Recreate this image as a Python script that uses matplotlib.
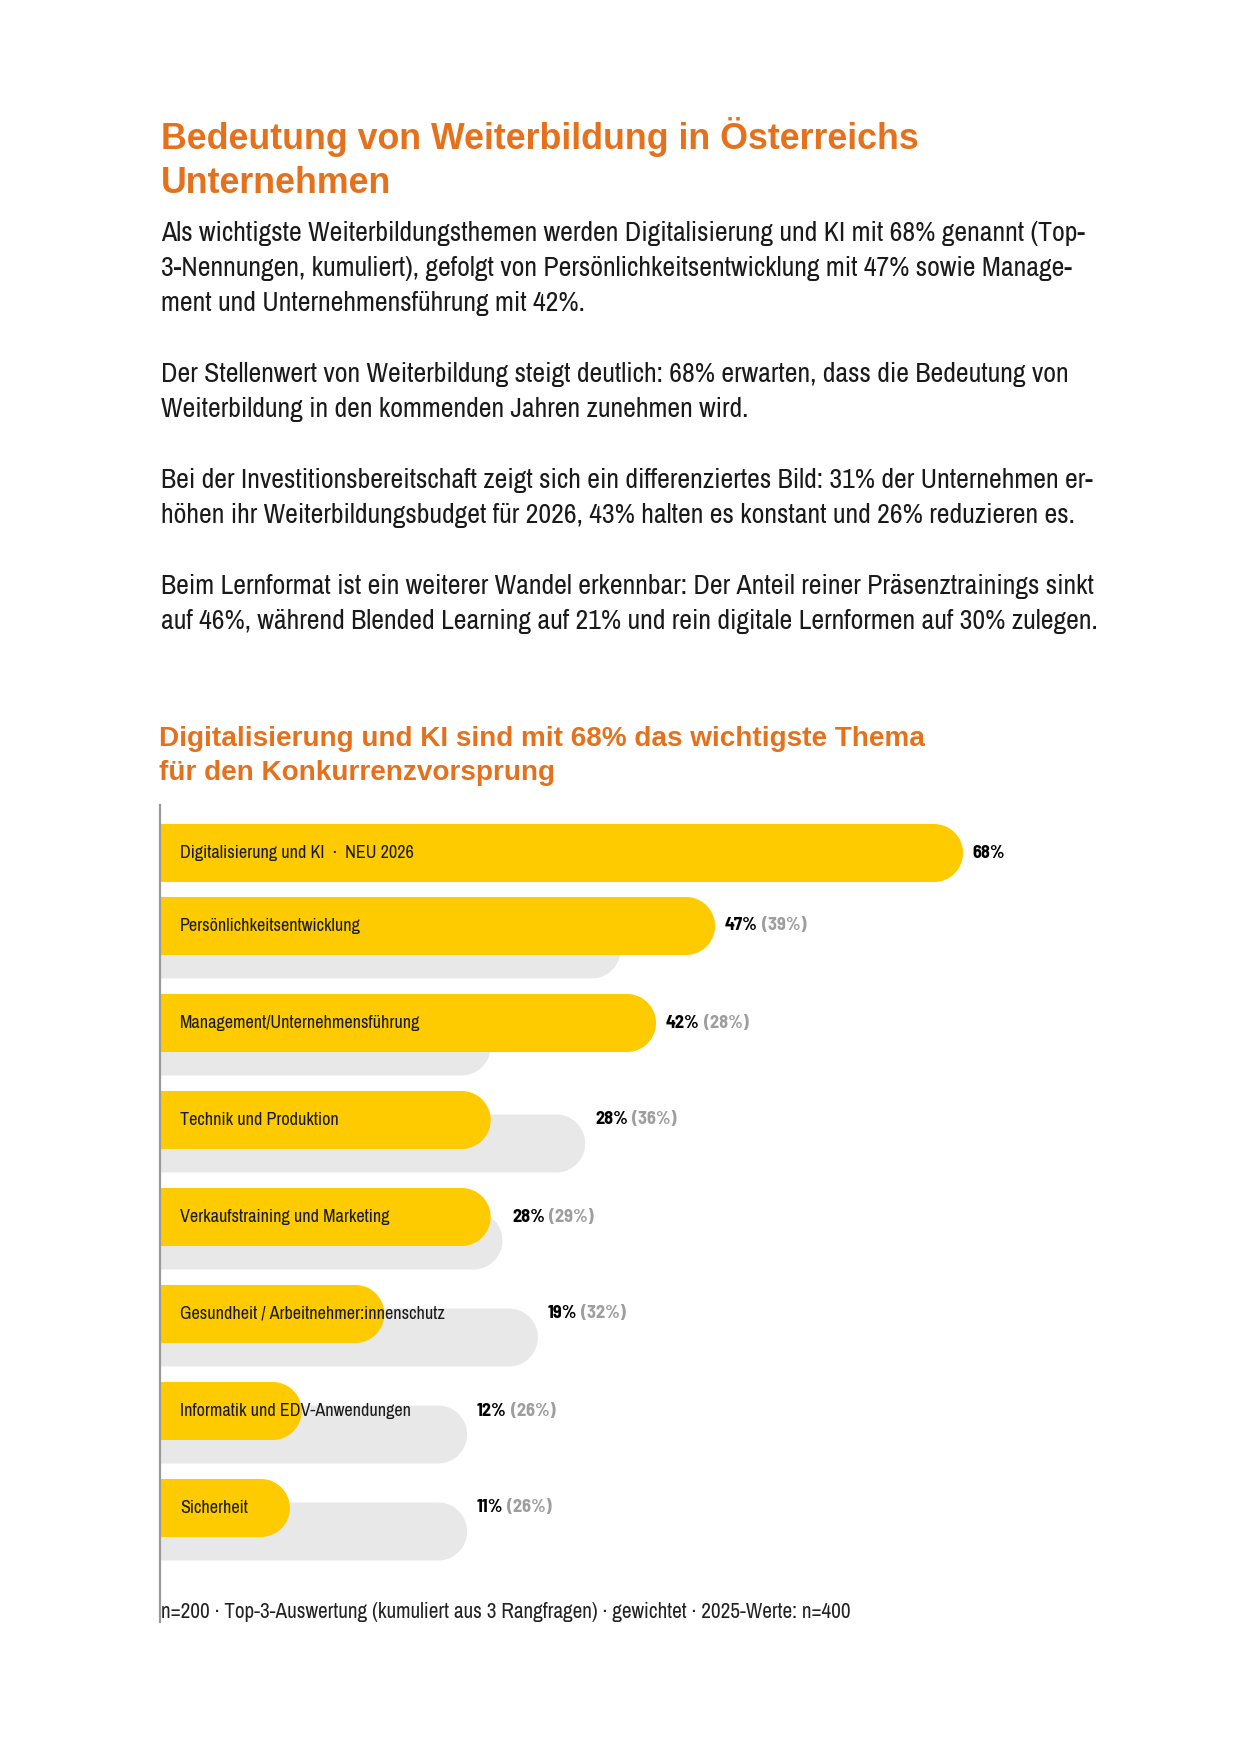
import matplotlib
matplotlib.use("Agg")
import matplotlib.pyplot as plt
import numpy as np
from matplotlib.patches import Polygon

W, H = 1241, 1754

title_lines = ["Bedeutung von Weiterbildung in Österreichs", "Unternehmen"]
body_paragraphs = [
    ["Als wichtigste Weiterbildungsthemen werden Digitalisierung und KI mit 68% genannt (Top-",
     "3-Nennungen, kumuliert), gefolgt von Persönlichkeitsentwicklung mit 47% sowie Manage-",
     "ment und Unternehmensführung mit 42%."],
    ["Der Stellenwert von Weiterbildung steigt deutlich: 68% erwarten, dass die Bedeutung von",
     "Weiterbildung in den kommenden Jahren zunehmen wird."],
    ["Bei der Investitionsbereitschaft zeigt sich ein differenziertes Bild: 31% der Unternehmen er-",
     "höhen ihr Weiterbildungsbudget für 2026, 43% halten es konstant und 26% reduzieren es."],
    ["Beim Lernformat ist ein weiterer Wandel erkennbar: Der Anteil reiner Präsenztrainings sinkt",
     "auf 46%, während Blended Learning auf 21% und rein digitale Lernformen auf 30% zulegen."],
]
chart_title = ["Digitalisierung und KI sind mit 68% das wichtigste Thema",
               "für den Konkurrenzvorsprung"]
footer = "n=200 · Top-3-Auswertung (kumuliert aus 3 Rangfragen) · gewichtet · 2025-Werte: n=400"

categories = ["Digitalisierung und KI  ·  NEU 2026", "Persönlichkeitsentwicklung",
              "Management/Unternehmensführung", "Technik und Produktion",
              "Verkaufstraining und Marketing", "Gesundheit / Arbeitnehmer:innenschutz",
              "Informatik und EDV-Anwendungen", "Sicherheit"]
values_2026 = [68, 47, 42, 28, 28, 19, 12, 11]
values_2025 = [None, 39, 28, 36, 29, 32, 26, 26]

ORANGE = "#E5711C"
YELLOW = "#FDCB00"
LIGHT = "#E8E8E8"
GREY_TXT = "#9E9E9E"
INK = "#1A1A1A"
NARROW = ["Archivo Narrow", "DejaVu Sans"]
NARROW_BOLD = ["Barlow Semi Condensed", "Archivo Narrow", "DejaVu Sans"]
SANS = ["Liberation Sans", "DejaVu Sans"]

fig = plt.figure(figsize=(W / 100, H / 100), dpi=100)
renderer = fig.canvas.get_renderer()


def ptext(x, y, s, **kw):
    # text at page pixel coords, y measured from the top
    return fig.text(x / W, 1 - y / H, s, va="baseline", ha="left", **kw)


def fit(t, target):
    w = t.get_window_extent(renderer).width
    t.set_fontsize(t.get_fontsize() * target / w)
    return t.get_fontsize()


# page title
t = ptext(161, 149, title_lines[0], family=SANS, weight="bold", color=ORANGE, fontsize=26)
tsize = fit(t, 759)
ptext(161, 193, title_lines[1], family=SANS, weight="bold", color=ORANGE, fontsize=tsize)

# body text
probe = ptext(0, -100, body_paragraphs[3][1], family=NARROW, fontsize=18)
bsize = fit(probe, 938)
probe.remove()
y = 241
for para in body_paragraphs:
    for line in para:
        ptext(161, y, line, family=NARROW, fontsize=bsize, color=INK)
        y += 35
    y += 36

# chart title
t = ptext(159, 746, chart_title[0], family=SANS, weight="bold", color=ORANGE, fontsize=19)
csize = fit(t, 764)
ptext(159, 780, chart_title[1], family=SANS, weight="bold", color=ORANGE, fontsize=csize)

# chart axes placed in page pixels
PX_PER_PCT = 11.81
top, bottom, left = 805, 1622, 160
xmax = 80
ax = fig.add_axes([left / W, 1 - bottom / H, xmax * PX_PER_PCT / W, (bottom - top) / H])
ax.set_xlim(0, xmax)
ax.set_ylim(bottom - top, 0)
for s in ["top", "right", "bottom"]:
    ax.spines[s].set_visible(False)
ax.spines["left"].set_color("#9A9A9A")
ax.spines["left"].set_linewidth(1.6)
ax.set_xticks([])
ax.set_yticks([])
ax.patch.set_alpha(0)

bar_h = 58
grey_shift = 23.5
first_row = 48
row_gap = 97
rx = (bar_h / 2) / PX_PER_PCT


def rounded_bar(v, c, color, z):
    th = np.linspace(-np.pi / 2, np.pi / 2, 40)
    xs = np.concatenate([[0], v - rx + rx * np.cos(th), [0]])
    ys = np.concatenate([[c - bar_h / 2], c + bar_h / 2 * np.sin(th), [c + bar_h / 2]])
    ax.add_patch(Polygon(np.column_stack([xs, ys]), closed=True, fc=color, ec="none", zorder=z))


probe = ax.text(0, 0, categories[1], family=NARROW, fontsize=13)
lsize = fit(probe, 182)
probe.remove()
probe = ax.text(0, 0, "47%", family=NARROW_BOLD, weight="bold", fontsize=12)
vsize = fit(probe, 33)
probe.remove()

for i, (cat, v, p) in enumerate(zip(categories, values_2026, values_2025)):
    c = first_row if i == 0 else first_row + 73 + row_gap * (i - 1)
    if p is not None:
        rounded_bar(p, c + grey_shift, LIGHT, 1)
    rounded_bar(v, c, YELLOW, 2)
    ax.text(20 / PX_PER_PCT, c, cat, family=NARROW, fontsize=lsize, color=INK,
            va="center", ha="left", zorder=3)
    lx = max(v, p or 0)
    a = ax.annotate(f"{v}%", (lx, c), xytext=(7, 0), textcoords="offset points",
                    family=NARROW_BOLD, weight="bold", fontsize=vsize, color="black",
                    va="center", ha="left", zorder=3)
    if p is not None:
        ax.annotate(f"({p}%)", xy=(1, 0), xycoords=a, xytext=(3, 0),
                    textcoords="offset points", family=NARROW_BOLD, weight="bold",
                    fontsize=vsize, color=GREY_TXT, va="bottom", ha="left", zorder=3)

# footer
t = ptext(161, 1618, footer, family=NARROW, fontsize=14, color="#222222")
fit(t, 688)

fig.savefig("out.png", dpi=100, facecolor="white")
